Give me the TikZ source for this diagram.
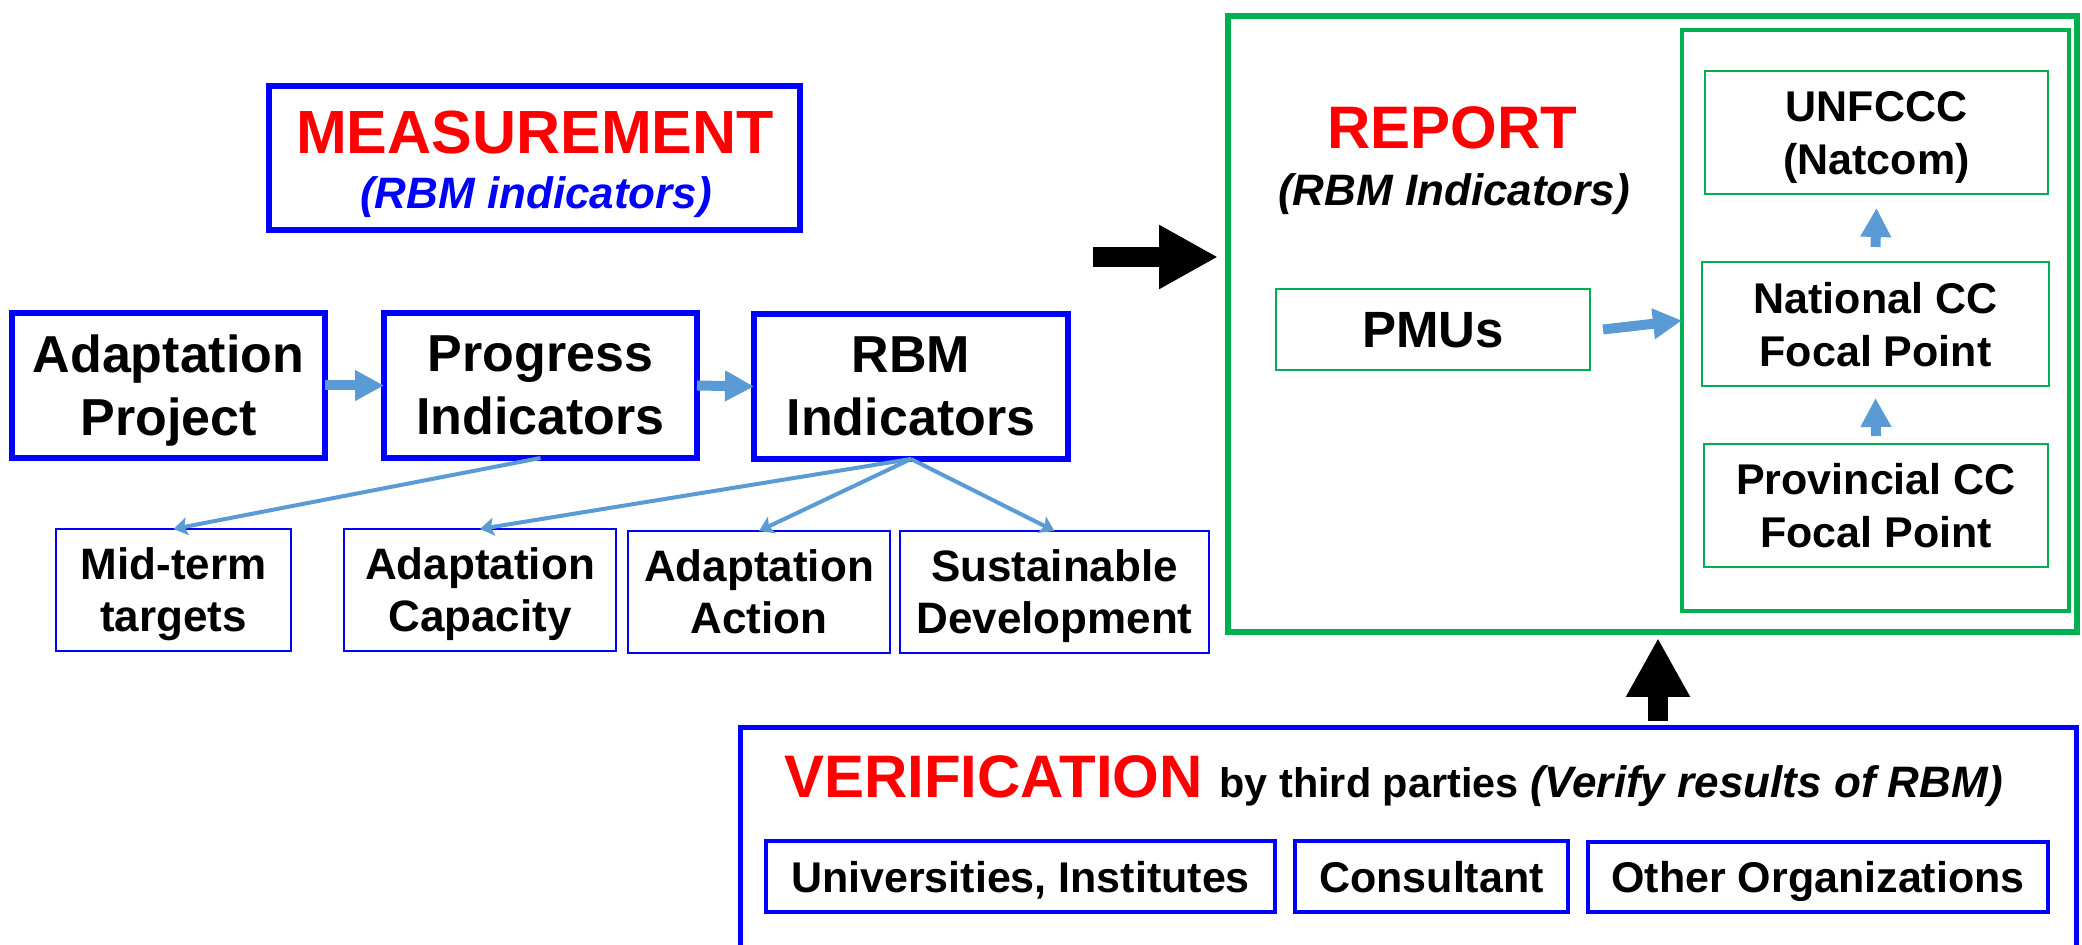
\documentclass[tikz,border=0pt]{standalone}
\usepackage{fontspec}
\setmainfont{Liberation Sans}
\usetikzlibrary{arrows.meta,calc}
\definecolor{mblue}{HTML}{0000FF}
\definecolor{mred}{HTML}{FF0000}
\definecolor{mgreen}{HTML}{00B050}
\definecolor{ablue}{HTML}{5B9BD5}
\newcommand\fsz[2]{\fontsize{#1}{#2}\selectfont}
\begin{document}
\begin{tikzpicture}[x=0.5pt,y=-0.5pt,
  every node/.style={outer sep=0pt, inner sep=0pt, align=center, font=\bfseries},
  bigbox/.style={draw=mblue, line width=2.6pt, text depth=0pt},
  smallbox/.style={draw=mblue, line width=1.1pt, text depth=0pt},
  subbox/.style={draw=mblue, line width=1.7pt, text depth=0pt},
  gbox/.style={draw=mgreen, line width=1pt, text depth=0pt},
  toprow/.style={font=\bfseries\fsz{26}{31.5}},
  botrow/.style={font=\bfseries\fsz{22}{26}},
  subrow/.style={font=\bfseries\fsz{21.5}{26}},
  greentext/.style={font=\bfseries\fsz{21.5}{26.5}},
  blockarrow/.style={draw=ablue, line width=5pt, -{Triangle[length=14.5pt,width=14.5pt]}},
  thinarrow/.style={draw=ablue, line width=2pt, -{Stealth[length=7pt,width=9pt,inset=1.5pt]}},
  blackarrow/.style={draw=black, line width=10pt, -{Triangle[length=29.5pt,width=30pt]}},
]
\fill[white] (0,0) rectangle (2082,945);
\useasboundingbox (0,0) rectangle (2082,945);

% ---------- Measurement ----------
\node[bigbox, minimum width=265.5pt, minimum height=72pt] (meas) at (534.5,158) {};
\node[anchor=base, text=mred, font=\bfseries\fsz{30.5}{36}] (meast) at (535,154) {MEASUREMENT};
\node[anchor=base, text=mblue, font=\bfseries\itshape\fsz{22}{26}] (measst) at (536,209) {(RBM indicators)};

\node[bigbox, toprow, minimum width=156.5pt, minimum height=72.5pt] (ap) at (168.5,385.5) {Adaptation\\Project};
\node[bigbox, toprow, minimum width=156.5pt, minimum height=72.5pt] (pi) at (540.5,385.5) {Progress\\Indicators};
\node[bigbox, toprow, minimum width=157pt, minimum height=72.5pt] (rbm) at (911,386.5) {RBM\\Indicators};

\node[smallbox, botrow, minimum width=117.5pt, minimum height=61pt] (mt) at (173.5,590) {Mid-term\\targets};
\node[smallbox, botrow, minimum width=136pt, minimum height=61pt] (ac) at (480,590) {Adaptation\\Capacity};
\node[smallbox, botrow, minimum width=131pt, minimum height=61pt] (aa) at (759,592) {Adaptation\\Action};
\node[smallbox, botrow, minimum width=154.5pt, minimum height=61pt] (sd) at (1054.5,592) {Sustainable\\Development};

\draw[blockarrow] (ap.east) -- (pi.west);
\draw[blockarrow] (pi.east) -- (rbm.west);
\draw[thinarrow] (pi.south) -- (mt.north);
\draw[thinarrow] (rbm.south) -- (ac.north);
\draw[thinarrow] (rbm.south) -- (aa.north);
\draw[thinarrow] (rbm.south) -- (sd.north);

% ---------- Report ----------
\node[draw=mgreen, line width=3pt, minimum width=424.5pt, minimum height=308pt] (rep) at (1652.5,324) {};
\node[draw=mgreen, line width=2.25pt, minimum width=193.5pt, minimum height=290.5pt] (inner) at (1875.5,320.5) {};
\node[anchor=base, text=mred, font=\bfseries\fsz{30}{36}] (rept) at (1452,149) {REPORT};
\node[anchor=base, font=\bfseries\itshape\fsz{22}{26}] (repst) at (1454,206) {(RBM Indicators)};

\node[gbox, font=\bfseries\fsz{25.5}{30}, minimum width=157pt, minimum height=40.5pt] (pmu) at (1433,329.5) {PMUs};
\node[gbox, greentext, minimum width=171.5pt, minimum height=61.5pt] (unf) at (1876.5,132.5) {UNFCCC\\(Natcom)};
\node[gbox, greentext, minimum width=173.5pt, minimum height=62pt] (nat) at (1875.5,324) {National CC\\Focal Point};
\node[gbox, greentext, minimum width=172pt, minimum height=61.5pt] (prov) at (1876,505.5) {Provincial CC\\Focal Point};

\draw[blockarrow] ([xshift=6.5pt]pmu.east) -- (inner.west);
\draw[blockarrow] ([yshift=4pt]prov.north) -- ([yshift=-6pt]nat.south);
\draw[blockarrow] ([yshift=7.5pt]nat.north) -- ([yshift=-7pt]unf.south);

% ---------- black arrows ----------
\coordinate (ba) at (1093,257);
\draw[blackarrow] (ba) -- ($(ba -| rep.west)+(-10,0)$);
\coordinate (va) at (1658,721);
\draw[blackarrow] (va) -- ($(va |- rep.south)+(0,6)$);

% ---------- Verification ----------
\node[draw=mblue, line width=2.5pt, minimum width=668pt, minimum height=123.5pt] (ver) at (1408,851.5) {};
\node[anchor=base west] (vert) at (784,797) {\textcolor{mred}{\fsz{30}{36}VERIFICATION\ }\fsz{20.7}{25}by third parties \fsz{22}{26}\textit{(Verify results of RBM)}};
\node[subbox, subrow, minimum width=254.5pt, minimum height=35.5pt] (uni) at (1020.5,876.5) {Universities, Institutes};
\node[subbox, subrow, minimum width=136.5pt, minimum height=35.5pt] (con) at (1431.5,876.5) {Consultant};
\node[subbox, subrow, minimum width=230pt, minimum height=35pt] (oth) at (1818,877) {Other Organizations};
\end{tikzpicture}
\end{document}
